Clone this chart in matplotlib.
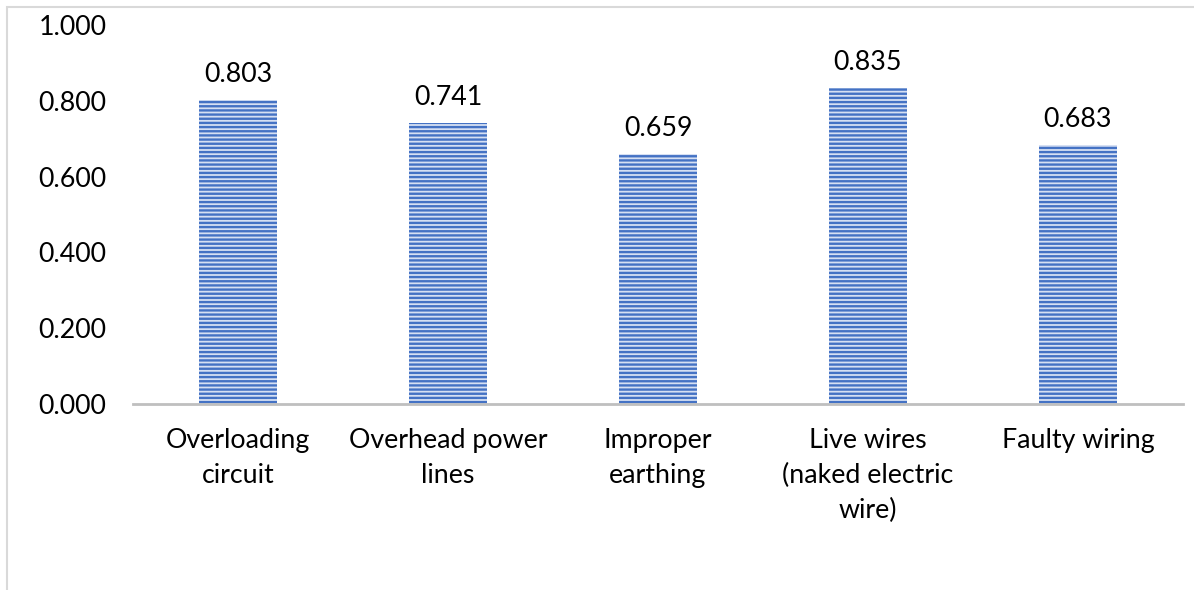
import matplotlib.pyplot as plt
from matplotlib.patches import Rectangle

plt.rcParams['font.family'] = ['Lato', 'DejaVu Sans']
plt.rcParams['hatch.color'] = '#4472c4'
plt.rcParams['hatch.linewidth'] = 1.7

causes = ['Overloading\ncircuit', 'Overhead power\nlines', 'Improper\nearthing',
          'Live wires\n(naked electric\nwire)', 'Faulty wiring']
scores = [0.803, 0.741, 0.659, 0.835, 0.683]
yticks = [0.0, 0.2, 0.4, 0.6, 0.8, 1.0]
fs = 19.3

fig = plt.figure(figsize=(11.94, 5.90), dpi=100)
ax = fig.add_axes([133 / 1194, 1 - 404 / 590, 1050 / 1194, 379 / 590])

# outer chart frame (only left and top show)
fig.patches.append(Rectangle((7 / 1194, -0.1), 1.2, 0.1 + 1 - 7 / 590, transform=fig.transFigure,
                             fill=False, edgecolor='#d9d9d9', linewidth=1.5))

x = range(len(causes))
bars = ax.bar(x, scores, width=78 / 210, color='#d6e0f3', hatch='----', linewidth=0)
for b in bars:
    b.set_edgecolor('#4472c4')
    b.set_linewidth(0)

for i, v in enumerate(scores):
    ax.text(i, v + 0.034, '%.3f' % v, ha='center', va='bottom', fontsize=fs)

ax.set_xlim(-0.5, len(causes) - 0.5)
ax.set_ylim(0, 1.0)
ax.set_yticks(yticks)
ax.set_yticklabels(['%.3f' % t for t in yticks])
ax.set_xticks(list(x))
ax.set_xticklabels(causes, fontsize=fs, linespacing=1.5, va='top')
ax.tick_params(axis='y', length=0, pad=19, labelsize=fs)
ax.tick_params(axis='x', length=0, pad=17)

for s in ['top', 'right', 'left']:
    ax.spines[s].set_visible(False)
ax.spines['bottom'].set_color('#bfbfbf')
ax.spines['bottom'].set_linewidth(2)

fig.savefig('out.png', dpi=100)
